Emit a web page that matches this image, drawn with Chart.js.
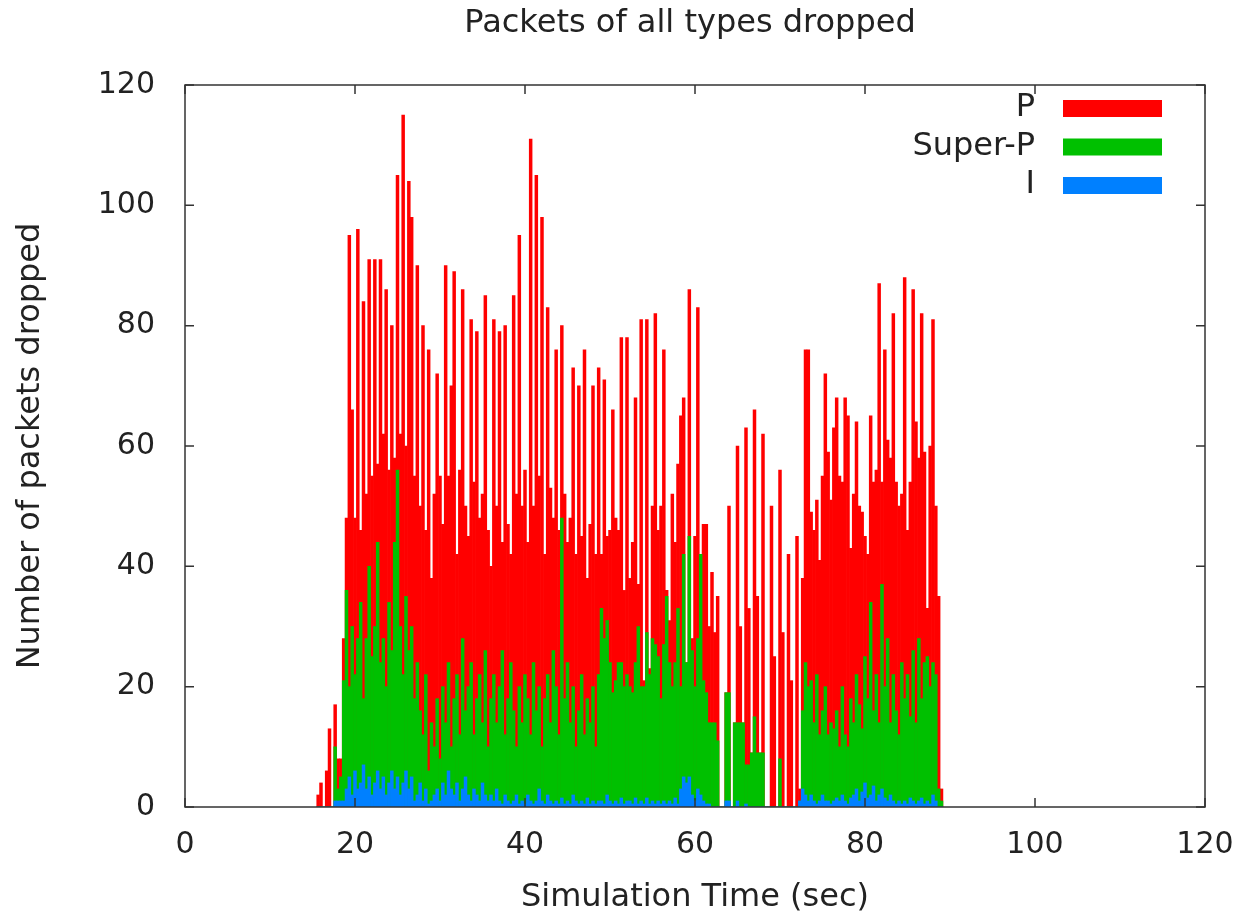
<!DOCTYPE html>
<html>
<head>
<meta charset="utf-8">
<title>Packets of all types dropped</title>
<script src="https://cdn.jsdelivr.net/npm/chart.js@4.4.1/dist/chart.umd.min.js"></script>
<style>
  html, body { margin: 0; padding: 0; background: #fff; }
  #wrap { width: 1239px; height: 917px; }
</style>
</head>
<body>
<div id="wrap"><canvas id="drops" width="1239" height="917"></canvas></div>
<script>
// samples every 1/3 s, first one at 15.67 s
const firstSample = 15 + 2 / 3;
const sampleStep = 1 / 3;

const chartTitle = 'Packets of all types dropped';

// P frames dropped (rows of 10 samples)
const pDrops = [
  2, 4, 0, 6, 13, 0, 17, 8, 8, 28,
  48, 95, 66, 48, 96, 46, 84, 52, 91, 55,
  91, 57, 91, 62, 86, 56, 80, 58, 105, 62,
  115, 60, 104, 98, 55, 90, 50, 80, 46, 76,
  38, 52, 72, 55, 47, 90, 55, 70, 89, 42,
  56, 86, 50, 45, 81, 54, 79, 48, 52, 85,
  46, 40, 81, 50, 79, 44, 80, 47, 42, 85,
  52, 95, 50, 56, 44, 111, 50, 105, 55, 98,
  42, 83, 53, 48, 76, 46, 80, 52, 44, 48,
  73, 42, 70, 45, 76, 38, 47, 70, 42, 73,
  42, 71, 45, 46, 66, 48, 46, 78, 36, 78,
  38, 44, 68, 37, 81, 21, 81, 23, 50, 82,
  46, 50, 76, 36, 31, 52, 44, 57, 65, 68,
  24, 86, 28, 45, 83, 42, 47, 47, 30, 39,
  29, 35, 0, 0, 19, 50, 0, 14, 60, 30,
  14, 63, 33, 9, 66, 35, 9, 62, 0, 0,
  50, 25, 0, 56, 29, 0, 42, 21, 0, 45,
  3, 38, 76, 76, 49, 46, 51, 41, 55, 72,
  59, 51, 63, 68, 55, 54, 68, 65, 43, 52,
  64, 50, 49, 45, 42, 65, 54, 56, 87, 54,
  76, 61, 58, 82, 54, 50, 52, 88, 46, 54,
  86, 64, 58, 82, 59, 33, 60, 81, 50, 35,
  3
];

// Super-P frames dropped
const superPDrops = [
  0, 0, 0, 0, 0, 0, 10, 3, 5, 21,
  36, 20, 30, 22, 28, 34, 18, 28, 40, 25,
  30, 44, 24, 28, 20, 34, 26, 44, 56, 30,
  22, 35, 26, 30, 18, 24, 16, 12, 22, 6,
  14, 10, 18, 8, 20, 14, 24, 10, 18, 22,
  12, 28, 16, 20, 24, 12, 18, 22, 14, 26,
  10, 18, 22, 14, 20, 26, 12, 18, 24, 16,
  10, 20, 14, 22, 18, 12, 24, 16, 20, 10,
  18, 22, 14, 26, 20, 12, 48, 18, 24, 14,
  20, 10, 16, 22, 12, 18, 14, 20, 10, 22,
  33, 28, 31, 24, 19, 21, 24, 24, 20, 22,
  20, 19, 24, 30, 20, 20, 29, 22, 28, 27,
  25, 18, 27, 35, 24, 20, 24, 33, 20, 42,
  24, 45, 26, 20, 28, 42, 21, 19, 14, 14,
  14, 11, 0, 0, 19, 19, 0, 14, 14, 14,
  14, 7, 7, 9, 15, 9, 9, 9, 0, 0,
  0, 0, 0, 8, 0, 0, 0, 0, 0, 0,
  1, 16, 24, 20, 21, 14, 22, 12, 16, 20,
  12, 14, 13, 16, 10, 20, 12, 10, 18, 14,
  22, 17, 13, 25, 18, 34, 16, 22, 14, 37,
  20, 28, 14, 22, 16, 12, 24, 18, 22, 15,
  26, 14, 28, 18, 24, 25, 20, 24, 22, 3,
  1
];

// I frames dropped
const iDrops = [
  0, 0, 0, 0, 0, 0, 1, 1, 1, 1,
  3, 5, 2, 6, 3, 4, 7, 3, 5, 2,
  4, 6, 3, 5, 2, 4, 6, 3, 5, 2,
  4, 6, 3, 5, 1, 2, 4, 1, 3, 0.5,
  1, 2, 3, 1, 4, 2, 6, 3, 2, 4,
  1, 3, 5, 2, 1, 3, 2, 1, 4, 2,
  1, 2, 1, 3, 1, 0.5, 2, 1, 0.5, 1,
  2, 0.5, 1, 0.5, 2, 1, 0.5, 1, 3, 1,
  0.5, 2, 1, 0.5, 1, 0.5, 1.5, 0.5, 1, 0.5,
  2, 1, 0.5, 1, 0.5, 1.5, 0.5, 1, 0.5, 1,
  1, 0.5, 2, 1, 0.5, 1, 0.5, 1.5, 0.5, 1,
  1, 0.5, 1.5, 0.5, 1, 0.5, 1.5, 0.5, 1, 0.5,
  1, 0.5, 1, 0.5, 1, 0.5, 1.5, 0.5, 3, 5,
  4, 5, 2, 1, 3, 2, 1, 0.5, 0.5, 0,
  0, 0, 0, 0, 1, 1, 0, 0, 1, 0,
  0, 0.5, 0, 0, 0, 0, 0, 0, 0, 0,
  0, 0, 0, 0, 0, 0, 0, 0, 0, 0,
  1, 3, 2, 1, 2, 1, 0.5, 1, 2, 1,
  1, 0.5, 1, 1.5, 1, 2, 1, 0.5, 1.5, 2,
  3, 1, 2.5, 4, 1.5, 2, 3.5, 1, 2, 3,
  1.5, 1, 2, 1, 0.5, 1, 0.5, 1, 0.5, 1.5,
  1, 0.5, 1, 1.5, 0.5, 1, 0.5, 2, 1, 0,
  0
];

const xTicks = [0, 20, 40, 60, 80, 100, 120];
const yTicks = [0, 20, 40, 60, 80, 100, 120];

const times = pDrops.map((_, k) => firstSample + k * sampleStep);
const toPoints = (vals) => vals.map((v, k) => ({ x: times[k], y: v }));

const FAMILY = "'DejaVu Sans', sans-serif";
const TICK_FONT = { family: FAMILY, size: 30 };
const TEXT_FONT = { family: FAMILY, size: 32 };
const INK = '#222';

// gnuplot style frame with inward ticks on all four sides, title over the plot
const framePlugin = {
  id: 'frame',
  afterDatasetsDraw(chart) {
    const { ctx, chartArea: a, scales: { x, y } } = chart;
    ctx.save();
    ctx.strokeStyle = '#333';
    ctx.lineWidth = 1.5;
    ctx.strokeRect(a.left, a.top, a.right - a.left, a.bottom - a.top);
    ctx.beginPath();
    xTicks.forEach((v) => {
      const px = x.getPixelForValue(v);
      ctx.moveTo(px, a.bottom); ctx.lineTo(px, a.bottom - 9);
      ctx.moveTo(px, a.top); ctx.lineTo(px, a.top + 9);
    });
    yTicks.forEach((v) => {
      const py = y.getPixelForValue(v);
      ctx.moveTo(a.left, py); ctx.lineTo(a.left + 9, py);
      ctx.moveTo(a.right, py); ctx.lineTo(a.right - 9, py);
    });
    ctx.stroke();

    ctx.font = `${TEXT_FONT.size}px ${FAMILY}`;
    ctx.fillStyle = INK;
    ctx.textAlign = 'center';
    ctx.textBaseline = 'middle';
    ctx.fillText(chartTitle, (a.left + a.right) / 2 - 5, a.top - 61);
    ctx.restore();
  }
};

// key in the top right corner: label first, then colour sample
const keyPlugin = {
  id: 'key',
  afterDraw(chart) {
    const { ctx, chartArea: a } = chart;
    ctx.save();
    ctx.font = `${TEXT_FONT.size}px ${FAMILY}`;
    ctx.textAlign = 'right';
    ctx.textBaseline = 'middle';
    chart.data.datasets.forEach((ds, k) => {
      const cy = a.top + 23 + k * 38.5;
      ctx.fillStyle = INK;
      ctx.fillText(ds.label, a.right - 170, cy);
      ctx.fillStyle = ds.backgroundColor;
      ctx.fillRect(a.right - 142, cy - 8, 99, 17);
    });
    ctx.restore();
  }
};

new Chart(document.getElementById('drops'), {
  type: 'bar',
  data: {
    datasets: [
      { label: 'P', data: toPoints(pDrops), backgroundColor: '#ff0000', order: 3 },
      { label: 'Super-P', data: toPoints(superPDrops), backgroundColor: '#00c000', order: 2 },
      { label: 'I', data: toPoints(iDrops), backgroundColor: '#0080ff', order: 1 }
    ]
  },
  options: {
    responsive: false,
    animation: false,
    devicePixelRatio: 1,
    layout: { padding: { left: 0, right: 34, top: 85, bottom: 0 } },
    datasets: {
      bar: { grouped: false, barPercentage: 1, categoryPercentage: 1, borderWidth: 0 }
    },
    plugins: {
      legend: { display: false },
      tooltip: { enabled: false },
      title: { display: false }
    },
    scales: {
      x: {
        type: 'linear',
        min: 0,
        max: 120,
        offset: false,
        grid: { display: false, drawTicks: false },
        border: { display: false },
        ticks: { stepSize: 20, padding: 20, color: INK, font: TICK_FONT },
        title: { display: true, text: 'Simulation Time (sec)', color: INK, font: TEXT_FONT, padding: { top: 0, bottom: 0 } },
        afterFit: (s) => { s.height = 110; s.paddingLeft = 0; s.paddingRight = 0; }
      },
      y: {
        min: 0,
        max: 120,
        grid: { display: false, drawTicks: false },
        border: { display: false },
        ticks: { stepSize: 20, padding: 30, color: INK, font: TICK_FONT },
        title: { display: true, text: 'Number of packets dropped', color: INK, font: TEXT_FONT, padding: { top: 11, bottom: 0 } },
        afterFit: (s) => { s.width = 185; s.paddingTop = 0; s.paddingBottom = 0; }
      }
    }
  },
  plugins: [framePlugin, keyPlugin]
});
</script>
</body>
</html>
